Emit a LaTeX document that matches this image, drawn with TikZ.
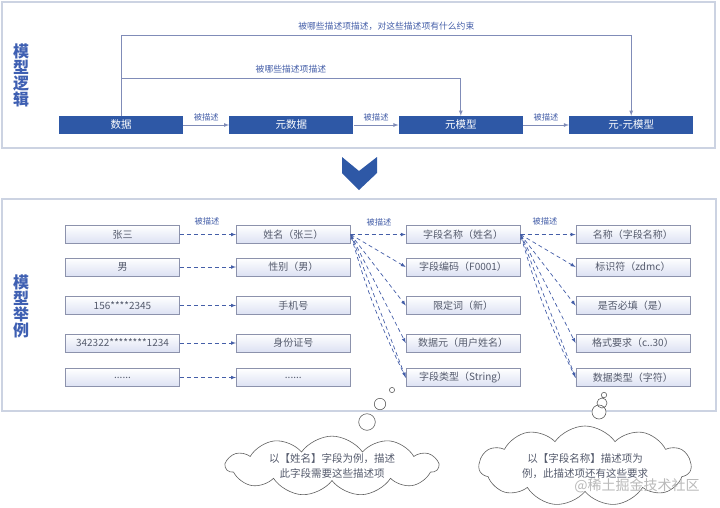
\documentclass[tikz,border=0pt]{standalone}
\usepackage{fontspec}
\setmainfont{Noto Sans CJK SC}
\usepackage{tikz}
\usetikzlibrary{shapes.symbols, arrows, positioning}
\definecolor{logicblue}{RGB}{46,88,166}
\definecolor{linegray}{RGB}{128,140,184}
\definecolor{dashblue}{RGB}{68,94,168}
\definecolor{boxedge}{RGB}{140,146,172}
\definecolor{boxfill}{RGB}{220,225,243}
\definecolor{panelgray}{RGB}{204,211,226}
\definecolor{titleblue}{RGB}{62,95,178}
\definecolor{textgray}{RGB}{84,90,108}
\tikzstyle{logic} = [rectangle, minimum width=124pt, minimum height=18pt, inner sep=0pt, fill=logicblue, text=white, font=\fontsize{10.5}{12}\selectfont]
\tikzstyle{item} = [rectangle, minimum width=114pt, minimum height=18pt, inner sep=0pt, draw=boxedge, line width=0.8pt, top color=white, bottom color=boxfill, text=textgray, font=\fontsize{10}{12}\selectfont]
\tikzstyle{arrow} = [line width=0.8pt, draw=linegray, ->, >=latex]
\tikzstyle{dasharrow} = [line width=0.7pt, draw=dashblue, dash pattern=on 4pt off 3pt, ->, >=latex]
\tikzstyle{desc} = [font=\fontsize{8.3}{9}\selectfont, text=dashblue, inner sep=1pt]
\tikzstyle{longdesc} = [font=\fontsize{8.8}{10}\selectfont, text=dashblue, inner sep=1pt]
\tikzstyle{panel} = [draw=panelgray, line width=1.2pt]
\tikzstyle{title} = [text=titleblue, font=\fontsize{16}{16}\selectfont\bfseries, align=center]
\tikzstyle{thought} = [cloud, cloud puffs=11, cloud puff arc=110, cloud ignores aspect, draw=gray!75!black, fill=white, line width=0.6pt, inner sep=0pt, align=center, text=textgray, font=\fontsize{10.5}{15}\selectfont]

\begin{document}
\begin{tikzpicture}[x=1pt, y=-1pt]
\useasboundingbox (0,0) rectangle (720,507);

% panels
\draw[panel] (2,2) rectangle (715,148);
\draw[panel] (2,199) rectangle (716,411);
\fill[logicblue] (342,157) -- (359,171) -- (377,157) -- (377,173) -- (359,190) -- (342,173) -- cycle;

\node (logictitle) [title] at (21,75) {模\\型\\逻\\辑};
\node (sampletitle) [title] at (21,306) {模\\型\\举\\例};

% model logic
\node (data) [logic] at (121,125) {数据};
\node (meta) [logic, right=46pt of data] {元数据};
\node (metamodel) [logic, right=45pt of meta] {元模型};
\node (metameta) [logic, right=46pt of metamodel] {元-元模型};

\draw[arrow] (data) -- node[desc, above=2pt] {被描述} (meta);
\draw[arrow] (meta) -- node[desc, above=2pt] {被描述} (metamodel);
\draw[arrow] (metamodel) -- node[desc, above=2pt] {被描述} (metameta);
\draw[arrow] (data.north) -- (data.north |- 0,35) -| node[longdesc, above=3pt, pos=0.26] {被哪些描述项描述，对这些描述项有什么约束} (metameta.north);
\draw[arrow] (data.north) -- (data.north |- 0,78) -| node[longdesc, above=3pt, pos=0.25] {被哪些描述项描述} (metamodel.north);

% model sample
\node (val1) [item] at (122.5,234.5) {张三};
\node (val2) [item] at (122.5,267) {男};
\node (val3) [item] at (122.5,305.5) {156****2345};
\node (val4) [item] at (122.5,343) {342322********1234};
\node (val5) [item] at (122.5,377.5) {......};

\node (fld1) [item, right=56pt of val1] {姓名（张三）};
\node (fld2) [item, right=56pt of val2] {性别（男）};
\node (fld3) [item, right=56pt of val3] {手机号};
\node (fld4) [item, right=56pt of val4] {身份证号};
\node (fld5) [item, right=56pt of val5] {......};

\node (item1) [item, right=55pt of fld1] {字段名称（姓名）};
\node (item2) [item, right=55pt of fld2] {字段编码（F0001）};
\node (item3) [item, right=55pt of fld3] {限定词（新）};
\node (item4) [item, right=55pt of fld4] {数据元（用户姓名）};
\node (item5) [item, right=55pt of fld5] {字段类型（String）};

\node (rule1) [item, right=55pt of item1] {名称（字段名称）};
\node (rule2) [item, right=55pt of item2] {标识符（zdmc）};
\node (rule3) [item, right=55pt of item3] {是否必填（是）};
\node (rule4) [item, right=55pt of item4] {格式要求（c..30）};
\node (rule5) [item, right=55pt of item5] {数据类型（字符）};

\foreach \i in {1,...,5} {
  \draw[dasharrow] (val\i) -- (fld\i);
  \draw[dasharrow] (fld1.east) -- (item\i.west);
  \draw[dasharrow] (item1.east) -- (rule\i.west);
}
\draw[dasharrow] (item5.west) to[bend left=5] (fld1.east);
\draw[dasharrow] (rule5.west) to[bend left=5] (item1.east);

\node (lbl1) [desc] at (207,221) {被描述};
\node (lbl2) [desc] at (379,222) {被描述};
\node (lbl3) [desc] at (545,221) {被描述};

% thought clouds
\draw[gray!75!black, fill=white, line width=0.6pt] (392,390) circle (2.6) (380,404) circle (5.7) (367,422) circle (8.3);
\draw[gray!75!black, fill=white, line width=0.6pt] (604,395) circle (2.7) (602,403) circle (5) (599,412) circle (7);
\node (note1) [thought, minimum width=212pt, minimum height=58pt] at (332,466) {以【姓名】字段为例，描述\\此字段需要这些描述项};
\node (note2) [thought, minimum width=212pt, minimum height=80pt] at (585,466) {以【字段名称】描述项为\\例，此描述项还有这些要求};

\node (mark) [text=gray!55, font=\fontsize{14}{16}\selectfont] at (637,486) {@稀土掘金技术社区};
\end{tikzpicture}
\end{document}
